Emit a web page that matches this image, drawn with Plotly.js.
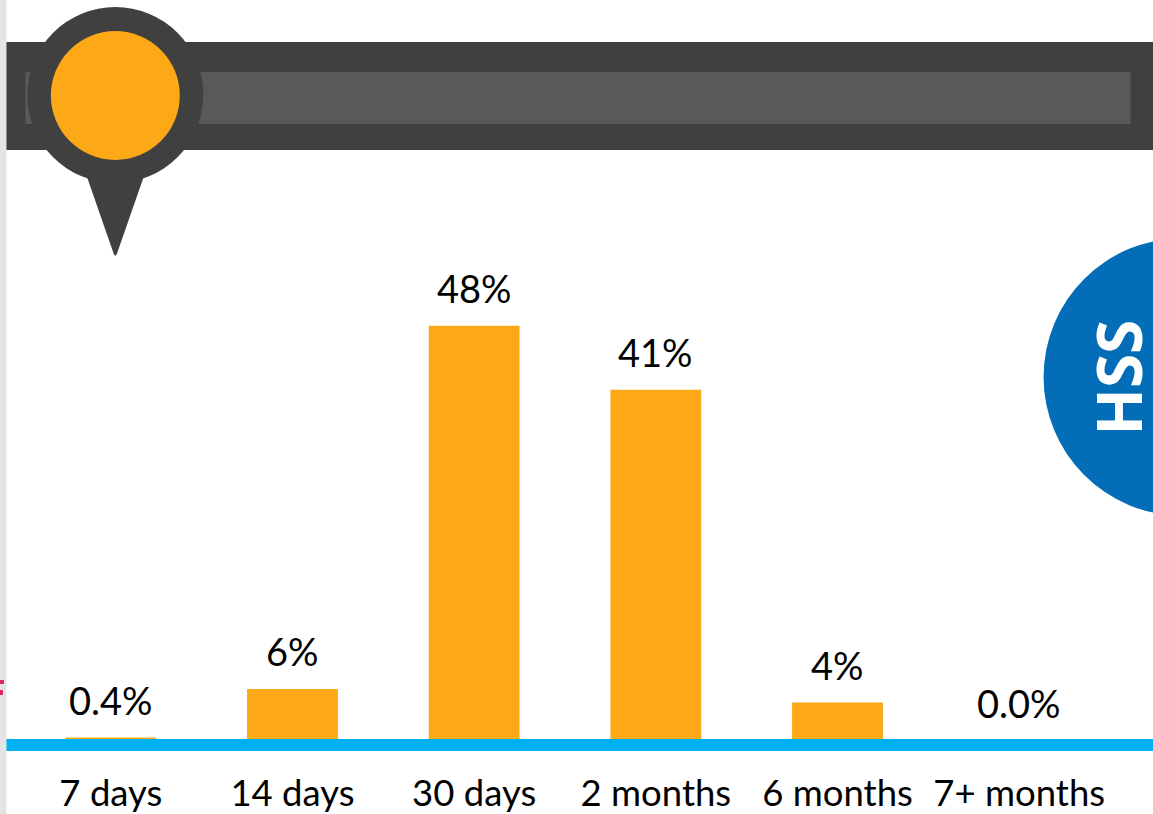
<!DOCTYPE html>
<html>
<head>
<meta charset="utf-8">
<script src="https://cdn.plot.ly/plotly-3.0.1.min.js"></script>
<style>html,body{margin:0;padding:0;background:#fff;overflow:hidden}#chart{width:1153px;height:814px}</style>
</head>
<body>
<div id="chart"></div>
<script>
const categories = ["7 days", "14 days", "30 days", "2 months", "6 months", "7+ months"];
const values = [0.4, 6, 48, 40.6, 4.45, 0];
const valueLabels = ["0.4%", "6%", "48%", "41%", "4%", "0.0%"];

const W = 1153, H = 814;
const M = {l: 19.6, r: 42.5, t: 260, b: 73};
const pw = W - M.l - M.r, ph = H - M.t - M.b;
const fx = x => (x - M.l) / pw;
const fy = y => 1 - (y - M.t) / ph;
const rect = (x0, y0, x1, y1, color, layer) => ({type: "rect", xref: "paper", yref: "paper",
  x0: fx(x0), x1: fx(x1), y0: fy(y1), y1: fy(y0), fillcolor: color, line: {width: 0}, layer: layer || "above"});
const circle = (cx, cy, r, color) => ({type: "circle", xref: "paper", yref: "paper",
  x0: fx(cx - r), x1: fx(cx + r), y0: fy(cy + r), y1: fy(cy - r), fillcolor: color, line: {width: 0}, layer: "above"});
const poly = (pts, color) => ({type: "path", xref: "paper", yref: "paper",
  path: "M" + pts.map(p => fx(p[0]) + "," + fy(p[1])).join(" L") + " Z", fillcolor: color, line: {width: 0}, layer: "above"});

const FONT = "Lato, 'Open Sans', sans-serif";
const DARK = "#404040", ORANGE = "#FCA817";

const shapes = [
  rect(-2, -2, 6, 820, "#E4E4E4"),
  rect(-2, 680, 3.5, 684, "#E0245E"),
  rect(-2, 690, 2.5, 695, "#E0245E"),
  rect(6, 42, 1160, 150, DARK),
  rect(25, 72, 1131, 124, "#595959"),
  poly([[87, 178], [143, 178], [116.5, 254], [115, 256], [113.5, 254]], DARK),
  circle(115, 95, 88, DARK),
  circle(115, 95.5, 64.5, ORANGE),
  circle(1182.7, 377, 138.7, "#036EB7"),
  rect(6, 739, 1160, 751, "#00B0F0")
];

const annotations = categories.map((c, i) => ({
  x: c, y: values[i], xref: "x", yref: "y", text: valueLabels[i], showarrow: false,
  yanchor: "middle", xanchor: "center", yshift: 38,
  font: {family: FONT, size: 38, color: "#000"}
}));
annotations.push({
  xref: "paper", yref: "paper", x: fx(1119), y: fy(377), text: "<b>HSS</b>", showarrow: false,
  textangle: -90, xanchor: "center", yanchor: "middle",
  font: {family: "'Open Sans', sans-serif", size: 62, color: "#fff"}
});

Plotly.newPlot("chart", [{
  type: "bar", x: categories, y: values, width: 0.5, marker: {color: ORANGE, line: {width: 0}},
  hoverinfo: "skip", cliponaxis: false
}], {
  width: W, height: H, margin: M, paper_bgcolor: "#fff", plot_bgcolor: "rgba(0,0,0,0)",
  showlegend: false, shapes, annotations,
  xaxis: {type: "category", range: [-0.5, 5.5], showgrid: false, zeroline: false, showline: false,
    ticks: "outside", ticklen: 20, tickcolor: "rgba(0,0,0,0)", tickangle: 0,
    tickfont: {family: FONT, size: 36.5, color: "#000"}},
  yaxis: {range: [0, ph / 8.65], visible: false, fixedrange: true}
}, {staticPlot: true, displayModeBar: false});
</script>
</body>
</html>
